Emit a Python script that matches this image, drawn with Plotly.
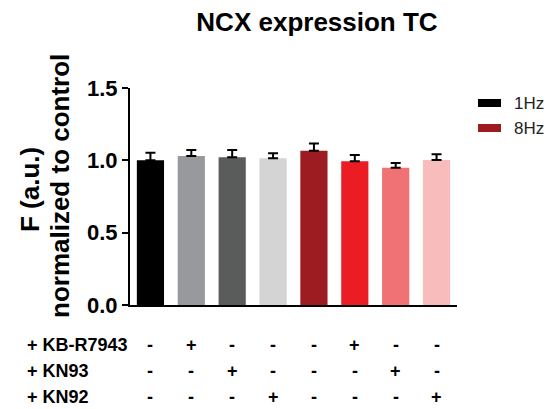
import plotly.graph_objects as go

categories = ["1Hz", "1Hz KB-R7943", "1Hz KN93", "1Hz KN92",
              "8Hz", "8Hz KB-R7943", "8Hz KN93", "8Hz KN92"]
values = [1.00, 1.03, 1.021, 1.014, 1.066, 0.993, 0.949, 1.002]
errors = [0.053, 0.041, 0.05, 0.035, 0.051, 0.044, 0.032, 0.04]
colors = ["#000000", "#97999c", "#5a5b5b", "#d4d4d4",
          "#9c1c21", "#ec1c24", "#f07275", "#f8bcbd"]
y_ticks = [0.0, 0.5, 1.0, 1.5]
row_labels = ["+ KB-R7943", "+ KN93", "+ KN92"]
row_signs = [
    ["-", "+", "-", "-", "-", "+", "-", "-"],
    ["-", "-", "+", "-", "-", "-", "+", "-"],
    ["-", "-", "-", "+", "-", "-", "-", "+"],
]
legend_names = ["1Hz", "8Hz"]
legend_colors = ["#000000", "#9c1c21"]

FONT = "Liberation Sans, Arial, sans-serif"

fig = go.Figure()
fig.add_trace(go.Bar(
    x=categories, y=values,
    marker=dict(color=colors, line=dict(width=0)),
    error_y=dict(type="data", array=errors, arrayminus=[0] * len(errors),
                 symmetric=False, color="#000000", thickness=2, width=5),
    showlegend=False,
))

L, R, T, B = 130, 96, 88, 104
W, H = 553, 409
pw = W - L - R
ph = H - T - B


def px_x(p):
    return (p - L) / pw


def px_y(p):
    return (H - B - p) / ph


annotations = []
annotations.append(dict(text="<b>F (a.u.)</b>", x=px_x(30), y=px_y(190), xref="paper", yref="paper",
                        textangle=-90, showarrow=False, font=dict(family=FONT, size=26, color="#000"),
                        xanchor="center", yanchor="middle"))
annotations.append(dict(text="<b>normalized to control</b>", x=px_x(60), y=px_y(186), xref="paper", yref="paper",
                        textangle=-90, showarrow=False, font=dict(family=FONT, size=26, color="#000"),
                        xanchor="center", yanchor="middle"))
row_y = [345, 371, 397]
for label, signs, ry in zip(row_labels, row_signs, row_y):
    annotations.append(dict(text="<b>" + label + "</b>", x=px_x(25), y=px_y(ry), xref="paper", yref="paper",
                            showarrow=False, xanchor="left", yanchor="middle",
                            font=dict(family=FONT, size=18, color="#000")))
    for c, s in zip(categories, signs):
        annotations.append(dict(text="<b>" + s + "</b>", x=c, y=px_y(ry), xref="x", yref="paper",
                                showarrow=False, xanchor="center", yanchor="middle",
                                font=dict(family=FONT, size=18, color="#000")))

shapes = []
leg_y = [103, 128]
for name, col, ly in zip(legend_names, legend_colors, leg_y):
    shapes.append(dict(type="rect", xref="paper", yref="paper",
                       x0=px_x(478), x1=px_x(501), y0=px_y(ly + 4), y1=px_y(ly - 4),
                       fillcolor=col, line=dict(width=0)))
    annotations.append(dict(text=name, x=px_x(512), y=px_y(ly), xref="paper", yref="paper",
                            showarrow=False, xanchor="left", yanchor="middle",
                            font=dict(family=FONT, size=17, color="#222")))

fig.update_layout(
    width=W, height=H,
    margin=dict(l=L, r=R, t=T, b=B),
    paper_bgcolor="white", plot_bgcolor="white",
    title=dict(text="<b>NCX expression TC</b>", x=317 / W, xref="container", xanchor="center",
               y=1 - 22 / H, yref="container", yanchor="middle",
               font=dict(family=FONT, size=26, color="#000")),
    bargap=0.335,
    xaxis=dict(type="category", range=[-0.5, 7.5], showticklabels=False, ticks="",
               showline=True, linecolor="#000", linewidth=2, showgrid=False, zeroline=False),
    yaxis=dict(range=[0, 1.5], tickvals=y_ticks, tickformat=".1f", ticks="outside", ticklen=6,
               tickwidth=2, tickcolor="#000", showline=True, linecolor="#000", linewidth=2,
               showgrid=False, zeroline=False,
               tickfont=dict(family=FONT, size=22, color="#000", weight="bold")),
    annotations=annotations,
    shapes=shapes,
    showlegend=False,
)

fig.write_html("out.html", config={"displayModeBar": False},
               post_script="document.body.style.margin='0';document.body.style.overflow='hidden';")
